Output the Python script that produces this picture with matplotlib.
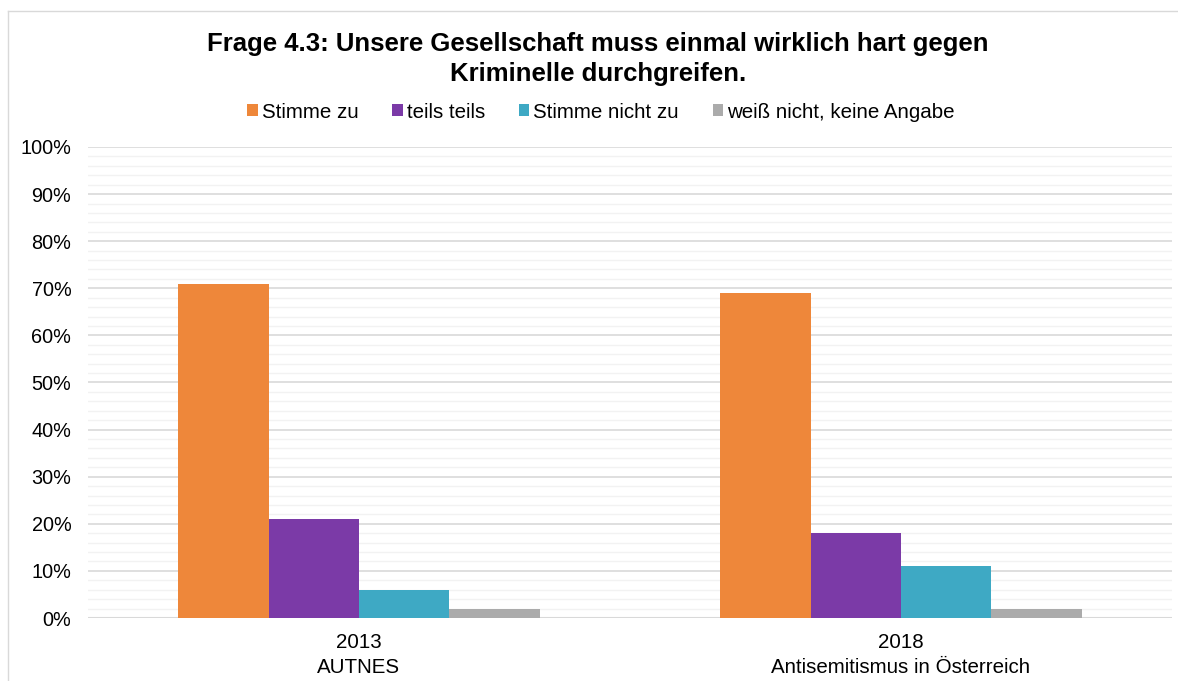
import matplotlib.pyplot as plt
import numpy as np
from matplotlib.ticker import MultipleLocator, PercentFormatter
from matplotlib.patches import Patch
from matplotlib.lines import Line2D

plt.rcParams['font.family'] = ['Liberation Sans', 'DejaVu Sans']

categories = ["2013\nAUTNES", "2018\nAntisemitismus in Österreich"]
series = ["Stimme zu", "teils teils", "Stimme nicht zu", "weiß nicht, keine Angabe"]
stimme_zu = [71, 69]
teils_teils = [21, 18]
stimme_nicht_zu = [6, 11]
weiss_nicht = [2, 2]
colors = ["#EE873A", "#7B3AA7", "#3EA9C4", "#ABABAB"]

values = [stimme_zu, teils_teils, stimme_nicht_zu, weiss_nicht]

fig = plt.figure(figsize=(11.78, 6.81), dpi=100)
ax = fig.add_axes([88 / 1178, 1 - 618 / 681, (1172 - 88) / 1178, (618 - 147) / 681])

x = np.arange(len(categories))
w = 1 / 6
for i, (vals, col) in enumerate(zip(values, colors)):
    ax.bar(x + (i - 1.5) * w, vals, width=w, color=col, zorder=3)

ax.set_xlim(-0.5, 1.5)
ax.set_ylim(0, 100)
ax.yaxis.set_major_locator(MultipleLocator(10))
ax.yaxis.set_minor_locator(MultipleLocator(2))
ax.yaxis.set_major_formatter(PercentFormatter(decimals=0))
ax.grid(axis='y', which='major', color='#D9D9D9', lw=1.2, zorder=0)
ax.grid(axis='y', which='minor', color='#F2F2F2', lw=1.0, zorder=0)
ax.set_xticks(x)
ax.set_xticklabels(categories, fontsize=14.8, linespacing=1.4)
ax.tick_params(axis='both', which='both', length=0)
ax.tick_params(axis='y', pad=12, labelsize=14.3)
ax.tick_params(axis='x', pad=11)
for s in ax.spines.values():
    s.set_visible(False)
ax.axhline(0, color='#D9D9D9', lw=1.5, zorder=2)

fig.text(598 / 1178, 1 - 59 / 681,
         "Frage 4.3: Unsere Gesellschaft muss einmal wirklich hart gegen\nKriminelle durchgreifen.",
         ha='center', va='center', fontsize=18.5, fontweight='bold', linespacing=1.33)

handles = [Patch(facecolor=c) for c in colors]
fig.legend(handles, series, loc='center', bbox_to_anchor=(601 / 1178, 1 - 112 / 681),
           ncol=4, frameon=False, fontsize=14.8, handlelength=0.5, handleheight=0.5,
           handletextpad=0.2, columnspacing=1.65)

# outer frame lines (top and left)
fig.add_artist(Line2D([8 / 1178, 8 / 1178], [0, 1 - 11 / 681], transform=fig.transFigure,
                      color='#D9D9D9', lw=1))
fig.add_artist(Line2D([8 / 1178, 1], [1 - 11 / 681, 1 - 11 / 681], transform=fig.transFigure,
                      color='#D9D9D9', lw=1))

fig.savefig('out.png', dpi=100)
